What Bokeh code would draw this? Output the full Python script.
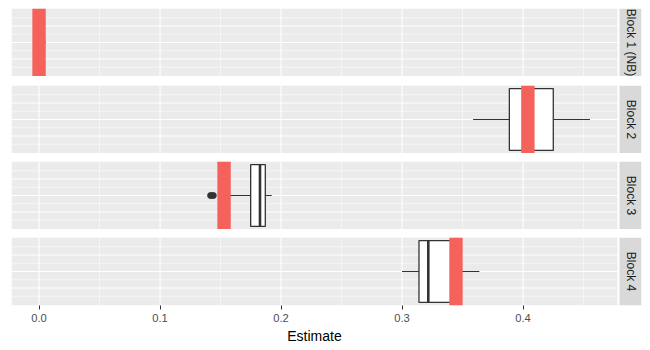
import math
from bokeh.plotting import figure
from bokeh.layouts import column
from bokeh.models import Range1d, FixedTicker
from bokeh.embed import file_html
from bokeh.resources import INLINE
from bokeh.core.properties import value

# ---- data ----
blocks = ["Block 1 (NB)", "Block 2", "Block 3", "Block 4"]
whisker_lo = [0.0000, 0.3587, 0.1555, 0.3000]
q1 = [0.0015, 0.3887, 0.1749, 0.3140]
median = [0.0025, 0.4040, 0.1826, 0.3217]
q3 = [0.0035, 0.4250, 0.1870, 0.3420]
whisker_hi = [0.0058, 0.4553, 0.1923, 0.3639]
outliers = [[], [], [0.1418, 0.1440], []]
true_value = [0.0, 0.4040, 0.1529, 0.3446]
x_ticks = [0.0, 0.1, 0.2, 0.3, 0.4]
x_tick_labels = ["0.0", "0.1", "0.2", "0.3", "0.4"]
x_minor = [0.05, 0.15, 0.25, 0.35, 0.45]
y_major = [-0.2, 0.0, 0.2]
y_minor = [-0.3, -0.1, 0.1, 0.3]
x_title = "Estimate"

# ---- styling / layout ----
FONT = "Liberation Sans"
PANEL_BG = "#EBEBEB"
STRIP_BG = "#D9D9D9"
RED = "#F5625C"
BOX_LINE = "#333333"
BOX_HALF = 0.375
Y_HALF = BOX_HALF * 1.1

all_x = whisker_lo + whisker_hi + true_value + [v for o in outliers for v in o]
xmin, xmax = min(all_x), max(all_x)
expand = 0.05 * (xmax - xmin)
panel_left, panel_right = xmin - expand, xmax + expand
PANEL_PX = 606.0
GAP_PX, STRIP_PX = 2.0, 22.0
px = (panel_right - panel_left) / PANEL_PX
strip_left = panel_right + GAP_PX * px
strip_right = strip_left + STRIP_PX * px
x_end = strip_right

W = 642
tops = [8, 9, 8, 8]
PANEL_H = 68
BOTTOM = 24
TITLE_H = 18


def base_fig(height, top, bottom, axis):
    f = figure(width=W, height=height, output_backend="svg", toolbar_location=None,
               x_range=Range1d(panel_left, x_end), y_range=Range1d(-Y_HALF, Y_HALF),
               x_axis_location="below" if axis else None, y_axis_location=None,
               min_border_left=11, min_border_right=1, min_border_top=top,
               min_border_bottom=bottom)
    f.outline_line_color = None
    f.background_fill_color = "white"
    f.border_fill_color = "white"
    f.grid.grid_line_color = None
    return f


figs = []
for i, name in enumerate(blocks):
    last = i == len(blocks) - 1
    h = tops[i] + PANEL_H + (BOTTOM if last else 0)
    p = base_fig(h, tops[i], BOTTOM if last else 0, last)

    # panel background
    p.quad(left=[panel_left], right=[panel_right], bottom=[-Y_HALF], top=[Y_HALF],
           fill_color=PANEL_BG, line_color=None)
    # grid
    p.segment(x0=[panel_left] * len(y_minor), x1=[panel_right] * len(y_minor),
              y0=y_minor, y1=y_minor, line_color="white", line_width=0.55)
    p.segment(x0=[panel_left] * len(y_major), x1=[panel_right] * len(y_major),
              y0=y_major, y1=y_major, line_color="white", line_width=1.1)
    p.segment(x0=x_minor, x1=x_minor, y0=[-Y_HALF] * len(x_minor), y1=[Y_HALF] * len(x_minor),
              line_color="white", line_width=0.55)
    p.segment(x0=x_ticks, x1=x_ticks, y0=[-Y_HALF] * len(x_ticks), y1=[Y_HALF] * len(x_ticks),
              line_color="white", line_width=1.1)

    # boxplot
    p.segment(x0=[whisker_lo[i], q3[i]], x1=[q1[i], whisker_hi[i]], y0=[0, 0], y1=[0, 0],
              line_color=BOX_LINE, line_width=1.2)
    p.quad(left=[q1[i]], right=[q3[i]], bottom=[-BOX_HALF], top=[BOX_HALF],
           fill_color="white", line_color=BOX_LINE, line_width=1.3)
    p.segment(x0=[median[i]], x1=[median[i]], y0=[-BOX_HALF], y1=[BOX_HALF],
              line_color=BOX_LINE, line_width=2.6)
    if outliers[i]:
        p.scatter(x=outliers[i], y=[0] * len(outliers[i]), size=6,
                  fill_color=BOX_LINE, line_color=BOX_LINE)

    # true value bar
    p.quad(left=[true_value[i] - 6.7 * px], right=[true_value[i] + 6.7 * px],
           bottom=[-Y_HALF], top=[Y_HALF], fill_color=RED, line_color=None)

    # strip
    p.quad(left=[strip_left], right=[strip_right], bottom=[-Y_HALF], top=[Y_HALF],
           fill_color=STRIP_BG, line_color=None)
    p.text(x=[(strip_left + strip_right) / 2], y=[0], text=[name], angle=-math.pi / 2,
           text_align="center", text_baseline="middle", text_font=value(FONT),
           text_font_size="12px", text_color="#1A1A1A")

    if last:
        ax = p.xaxis[0]
        ax.ticker = FixedTicker(ticks=x_ticks)
        ax.major_label_overrides = dict(zip(x_ticks, x_tick_labels))
        ax.axis_line_color = None
        ax.major_tick_line_color = BOX_LINE
        ax.major_tick_out = 4
        ax.major_tick_in = 0
        ax.minor_tick_line_color = None
        ax.major_label_text_font = FONT
        ax.major_label_text_font_size = "11.2px"
        ax.major_label_text_color = "#4D4D4D"
        ax.major_label_standoff = 4
    figs.append(p)

# x-axis title row, centred under the panels (not under the strips)
t = figure(width=W, height=TITLE_H, output_backend="svg", toolbar_location=None,
           x_range=Range1d(panel_left, x_end), y_range=Range1d(0, TITLE_H),
           x_axis_location=None, y_axis_location=None,
           min_border_left=11, min_border_right=1, min_border_top=0, min_border_bottom=0)
t.outline_line_color = None
t.grid.grid_line_color = None
t.text(x=[(panel_left + panel_right) / 2], y=[TITLE_H - 6.8], text=[x_title],
       text_align="center", text_baseline="middle", text_font=value(FONT),
       text_font_size="14px", text_color="black")
figs.append(t)

layout = column(*figs, spacing=0)
open("out.html", "w").write(file_html(layout, INLINE))
